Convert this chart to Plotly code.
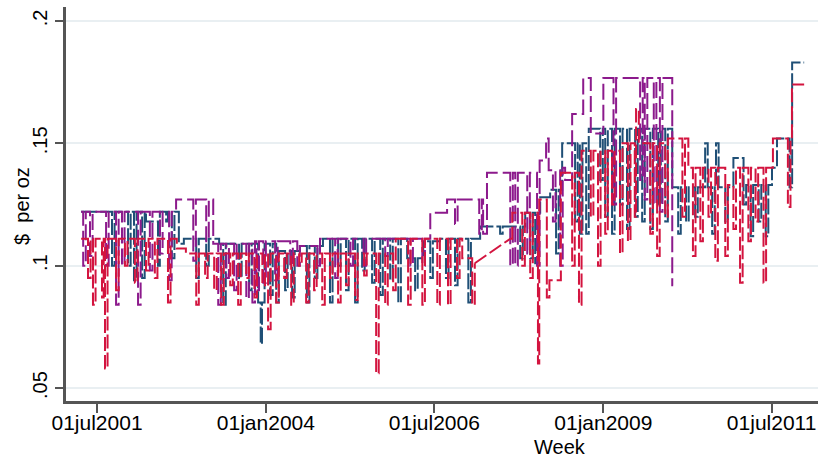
import plotly.graph_objects as go

# ---- data (weekly price series) ----
blue = [
    ("2001-04-06", .122),
    ("2001-09-20", .100), ("2001-10-04", .122),
    ("2001-12-16", .100), ("2001-12-30", .122),
    ("2002-01-17", .094), ("2002-01-31", .122),
    ("2002-03-02", .095), ("2002-03-16", .122),
    ("2002-03-23", .118),
    ("2002-05-27", .100), ("2002-06-06", .122),
    ("2002-07-10", .118), ("2002-07-20", .122),
    ("2002-08-10", .103), ("2002-08-24", .122),
    ("2002-09-17", .109),
    ("2002-10-14", .111),
    ("2002-12-20", .095), ("2003-01-03", .111),
    ("2003-02-12", .100), ("2003-02-26", .111),
    ("2003-04-23", .109),
    ("2003-05-15", .084), ("2003-05-29", .109),
    ("2003-08-09", .095), ("2003-08-23", .109),
    ("2003-10-02", .090), ("2003-10-16", .109),
    ("2003-11-20", .085), ("2003-12-04", .068), ("2003-12-11", .085), ("2003-12-25", .109),
    ("2004-01-24", .088), ("2004-02-07", .109),
    ("2004-02-26", .085), ("2004-03-11", .106),
    ("2004-04-14", .090), ("2004-04-28", .106),
    ("2004-05-22", .087), ("2004-06-05", .106),
    ("2004-07-03", .108),
    ("2004-08-10", .085), ("2004-08-24", .108),
    ("2004-09-22", .095), ("2004-10-06", .108),
    ("2004-11-05", .111),
    ("2004-12-13", .085), ("2004-12-27", .111),
    ("2005-01-26", .100), ("2005-02-09", .111),
    ("2005-03-10", .090), ("2005-03-24", .111),
    ("2005-04-28", .085), ("2005-05-12", .111),
    ("2005-06-05", .098), ("2005-06-19", .111),
    ("2005-07-29", .093), ("2005-08-12", .111),
    ("2005-09-11", .088), ("2005-09-25", .111),
    ("2005-11-04", .094), ("2005-11-18", .111),
    ("2005-12-18", .085), ("2006-01-01", .111),
    ("2006-02-04", .103),
    ("2006-03-19", .090), ("2006-04-02", .103),
    ("2006-05-02", .110),
    ("2006-06-09", .095), ("2006-06-23", .110),
    ("2006-07-31", .111),
    ("2006-09-02", .095), ("2006-09-16", .111),
    ("2006-10-21", .092), ("2006-11-04", .111),
    ("2007-01-01", .085), ("2007-01-15", .111),
    ("2007-03-06", .116),
    ("2007-06-22", .113), ("2007-07-06", .116),
    ("2007-10-09", .103), ("2007-10-23", .116),
    ("2007-11-05", .1216),
    ("2007-12-02", .103), ("2007-12-16", .1216),
    ("2007-12-29", .101), ("2008-01-12", .1216),
    ("2008-01-25", .128),
    ("2008-03-19", .131),
    ("2008-04-20", .105), ("2008-05-04", .131),
    ("2008-05-23", .150),
    ("2008-08-01", .118), ("2008-08-15", .150),
    ("2008-08-27", .113), ("2008-09-10", .150),
    ("2008-09-30", .113), ("2008-10-14", .156),
    ("2008-12-15", .135), ("2008-12-29", .156),
    ("2009-01-11", .120), ("2009-01-25", .156),
    ("2009-02-17", .113), ("2009-03-03", .156),
    ("2009-04-01", .125), ("2009-04-15", .156),
    ("2009-05-09", .115), ("2009-05-23", .156),
    ("2009-06-22", .120), ("2009-07-06", .156),
    ("2009-07-30", .118), ("2009-08-13", .156),
    ("2009-09-12", .115), ("2009-09-26", .156),
    ("2009-10-25", .125), ("2009-11-08", .156),
    ("2009-12-02", .118), ("2009-12-16", .156),
    ("2010-01-09", .132),
    ("2010-02-10", .113), ("2010-02-24", .132),
    ("2010-03-25", .118), ("2010-04-08", .132),
    ("2010-05-13", .120), ("2010-05-27", .132),
    ("2010-07-06", .150), ("2010-07-20", .132),
    ("2010-08-13", .113), ("2010-08-27", .132),
    ("2010-09-03", .150), ("2010-09-17", .132),
    ("2010-10-23", .118), ("2010-11-06", .132),
    ("2010-12-06", .144),
    ("2011-01-30", .125), ("2011-02-13", .133),
    ("2011-03-09", .112), ("2011-03-23", .133),
    ("2011-04-22", .118), ("2011-05-06", .133),
    ("2011-05-30", .112), ("2011-06-13", .133),
    ("2011-07-03", .140),
    ("2011-07-30", .152),
    ("2011-10-06", .132),
    ("2011-10-20", .183),
    ("2011-12-24", .183),
]

purple = [
    ("2001-04-06", .122),
    ("2001-04-17", .100), ("2001-05-01", .122),
    ("2001-05-24", .104), ("2001-06-07", .122),
    ("2001-08-19", .100), ("2001-09-02", .122),
    ("2001-10-12", .084), ("2001-10-26", .122),
    ("2001-11-13", .100), ("2001-11-27", .122),
    ("2002-02-08", .084), ("2002-02-22", .122),
    ("2002-04-13", .098), ("2002-04-27", .122),
    ("2002-06-07", .105), ("2002-06-21", .122),
    ("2002-07-26", .094), ("2002-08-09", .122),
    ("2002-09-02", .127),
    ("2002-12-04", .102), ("2002-12-18", .127),
    ("2003-02-12", .110), ("2003-02-26", .127),
    ("2003-03-22", .109),
    ("2003-04-18", .084), ("2003-05-02", .109),
    ("2003-06-01", .095), ("2003-06-15", .109),
    ("2003-07-13", .090), ("2003-07-27", .109),
    ("2003-09-17", .0865), ("2003-10-01", .109),
    ("2003-10-20", .085), ("2003-11-03", .110),
    ("2003-11-11", .090), ("2003-11-25", .110),
    ("2003-12-18", .093), ("2004-01-01", .110),
    ("2004-02-20", .094), ("2004-03-05", .110),
    ("2004-05-12", .100), ("2004-05-26", .110),
    ("2004-06-19", .100), ("2004-07-03", .108),
    ("2004-10-06", .100), ("2004-10-20", .111),
    ("2005-01-10", .095), ("2005-01-24", .111),
    ("2005-04-03", .100), ("2005-04-17", .111),
    ("2005-06-13", .100), ("2005-06-27", .111),
    ("2005-10-08", .104), ("2005-10-22", .111),
    ("2006-02-21", .100), ("2006-03-07", .111),
    ("2006-04-27", .100), ("2006-05-11", .111),
    ("2006-06-09", .1216),
    ("2006-09-08", .127),
    ("2006-10-21", .117), ("2006-11-04", .127),
    ("2007-03-01", .113), ("2007-03-15", .127),
    ("2007-03-22", .113),
    ("2007-04-12", .138),
    ("2007-08-16", .100), ("2007-08-30", .138),
    ("2007-09-12", .100), ("2007-09-26", .138),
    ("2007-11-16", .105), ("2007-11-30", .138),
    ("2008-01-08", .100), ("2008-01-22", .143),
    ("2008-02-26", .152), ("2008-03-11", .139),
    ("2008-04-03", .118), ("2008-04-17", .139),
    ("2008-05-12", .100), ("2008-05-26", .140),
    ("2008-06-08", .135),
    ("2008-07-16", .162),
    ("2008-09-14", .1767),
    ("2008-10-25", .154),
    ("2009-01-01", .1767),
    ("2009-02-25", .125), ("2009-03-11", .1767),
    ("2009-07-19", .135), ("2009-08-02", .1767),
    ("2009-08-13", .127), ("2009-08-27", .1767),
    ("2009-10-01", .125), ("2009-10-15", .1767),
    ("2009-11-03", .122), ("2009-11-17", .1767),
    ("2010-01-09", .092),
    ("2010-01-14", .092),
]

red_before_gap = [
    ("2001-04-06", .111),
    ("2001-05-13", .095), ("2001-05-27", .111),
    ("2001-06-09", .084), ("2001-06-23", .111),
    ("2001-07-28", .087), ("2001-08-06", .111),
    ("2001-08-13", .058), ("2001-08-27", .111),
    ("2001-10-12", .090), ("2001-10-26", .111),
    ("2001-11-29", .100), ("2001-12-13", .111),
    ("2002-01-22", .093), ("2002-02-05", .111),
    ("2002-03-23", .098), ("2002-04-06", .111),
    ("2002-05-10", .095), ("2002-05-24", .111),
    ("2002-07-20", .085), ("2002-08-03", .111),
    ("2002-09-06", .107),
    ("2002-10-25", .105),
    ("2002-12-20", .084), ("2003-01-03", .105),
    ("2003-02-06", .095), ("2003-02-20", .105),
    ("2003-03-27", .090), ("2003-04-10", .105),
    ("2003-05-04", .084), ("2003-05-18", .105),
    ("2003-06-22", .092), ("2003-07-06", .105),
    ("2003-08-04", .084), ("2003-08-18", .105),
    ("2003-09-17", .095), ("2003-10-01", .105),
    ("2003-10-31", .087), ("2003-11-14", .105),
    ("2003-12-13", .092), ("2003-12-27", .105),
    ("2004-01-13", .074), ("2004-01-27", .105),
    ("2004-02-26", .085), ("2004-03-11", .105),
    ("2004-04-09", .095), ("2004-04-23", .105),
    ("2004-05-17", .084), ("2004-05-31", .105),
    ("2004-06-29", .100), ("2004-07-13", .105),
    ("2004-08-06", .085), ("2004-08-20", .105),
    ("2004-09-18", .090), ("2004-10-02", .105),
    ("2004-11-01", .084), ("2004-11-15", .105),
    ("2004-12-13", .095), ("2004-12-27", .105),
    ("2005-01-26", .085), ("2005-02-09", .105),
    ("2005-03-10", .092), ("2005-03-24", .105),
    ("2005-04-28", .086), ("2005-05-12", .105),
    ("2005-06-16", .096), ("2005-06-30", .105),
    ("2005-08-20", .056), ("2005-09-03", .105),
    ("2005-10-08", .084), ("2005-10-22", .105),
    ("2005-11-20", .090), ("2005-12-04", .111),
    ("2006-02-09", .084), ("2006-02-23", .111),
    ("2006-04-27", .084), ("2006-05-11", .111),
    ("2006-07-17", .084), ("2006-07-31", .111),
    ("2006-09-13", .084), ("2006-09-27", .111),
    ("2006-11-01", .095), ("2006-11-15", .111),
    ("2006-11-29", .103),
    ("2007-01-22", .084), ("2007-02-05", .101),
]

red_after_gap = [
    ("2007-08-16", .111),
    ("2007-08-27", .1216),
    ("2007-10-20", .100), ("2007-11-03", .1216),
    ("2007-12-02", .095), ("2007-12-16", .1216),
    ("2008-01-13", .060), ("2008-01-20", .127),
    ("2008-03-01", .087), ("2008-03-15", .094),
    ("2008-05-16", .138),
    ("2008-07-16", .100), ("2008-07-30", .138),
    ("2008-08-22", .084), ("2008-09-05", .147),
    ("2008-10-25", .120), ("2008-11-08", .147),
    ("2008-12-03", .100), ("2008-12-17", .147),
    ("2009-01-11", .113), ("2009-01-25", .147),
    ("2009-02-17", .125), ("2009-03-03", .147),
    ("2009-04-01", .105), ("2009-04-15", .150),
    ("2009-05-14", .110), ("2009-05-28", .150),
    ("2009-06-20", .120), ("2009-06-27", .164),
    ("2009-07-12", .150),
    ("2009-09-12", .113), ("2009-09-26", .150),
    ("2009-10-19", .104), ("2009-11-02", .150),
    ("2009-12-02", .120), ("2009-12-16", .152),
    ("2010-03-05", .120), ("2010-03-19", .152),
    ("2010-04-06", .140),
    ("2010-05-01", .104), ("2010-05-15", .140),
    ("2010-06-10", .110), ("2010-06-24", .140),
    ("2010-07-24", .120), ("2010-08-07", .140),
    ("2010-08-30", .102), ("2010-09-13", .140),
    ("2010-10-23", .104), ("2010-11-06", .133),
    ("2010-12-06", .115), ("2010-12-20", .140),
    ("2011-01-11", .093), ("2011-01-25", .140),
    ("2011-02-25", .110), ("2011-03-11", .140),
    ("2011-04-05", .118), ("2011-04-19", .140),
    ("2011-05-18", .093), ("2011-06-01", .140),
    ("2011-07-08", .152),
    ("2011-09-27", .124), ("2011-10-11", .152),
    ("2011-10-19", .174),
    ("2011-12-24", .174),
]

tick_dates = ["2001-07-01", "2004-01-01", "2006-07-01", "2009-01-01", "2011-07-01"]
tick_labels = ["01jul2001", "01jan2004", "01jul2006", "01jan2009", "01jul2011"]
y_ticks = [0.05, 0.10, 0.15, 0.20]
y_tick_labels = [".05", ".1", ".15", ".2"]

BLUE = "#1f4f76"
PURPLE = "#8c1a8c"
RED = "#d3143f"
FONT = "Liberation Sans, Arial, Helvetica, sans-serif"


def xs(series):
    return [d for d, _ in series]


def ys(series):
    return [v for _, v in series]


fig = go.Figure()
fig.add_trace(go.Scatter(x=xs(blue), y=ys(blue), mode="lines", line_shape="hv",
                         line=dict(color=BLUE, width=2, dash="16px,3px")))
fig.add_trace(go.Scatter(x=xs(purple), y=ys(purple), mode="lines", line_shape="hv",
                         line=dict(color=PURPLE, width=2, dash="16px,5px")))
fig.add_trace(go.Scatter(x=xs(red_before_gap), y=ys(red_before_gap), mode="lines", line_shape="hv",
                         line=dict(color=RED, width=2, dash="14px,4px")))
bridge = [red_before_gap[-1], red_after_gap[0]]
fig.add_trace(go.Scatter(x=xs(bridge), y=ys(bridge), mode="lines",
                         line=dict(color=RED, width=2, dash="14px,4px")))
fig.add_trace(go.Scatter(x=xs(red_after_gap), y=ys(red_after_gap), mode="lines", line_shape="hv",
                         line=dict(color=RED, width=2, dash="14px,4px")))

fig.update_layout(
    width=818, height=457,
    margin=dict(l=66, r=0, t=7, b=56),
    paper_bgcolor="white", plot_bgcolor="white",
    showlegend=False,
    font=dict(family=FONT, size=20, color="black"),
    xaxis=dict(
        type="date",
        range=["2001-01-14", "2012-03-08"],
        tickmode="array", tickvals=tick_dates, ticktext=tick_labels,
        ticks="outside", ticklen=9, tickwidth=1.5, tickcolor="#555555",
        ticklabelstandoff=-8,
        showline=True, linecolor="#555555", linewidth=2.5,
        showgrid=False, zeroline=False,
        tickfont=dict(size=21, family=FONT, color="black"),
    ),
    yaxis=dict(
        range=[0.0447, 0.2057],
        tickmode="array", tickvals=y_ticks, ticktext=y_tick_labels,
        tickangle=-90,
        ticks="outside", ticklen=8, tickwidth=1.5, tickcolor="#555555",
        showline=True, linecolor="#555555", linewidth=2.5,
        showgrid=True, gridcolor="#e9eff2", gridwidth=1.5,
        zeroline=False,
        tickfont=dict(size=20, family=FONT, color="black"),
    ),
    annotations=[
        dict(text="Week", xref="paper", yref="paper", x=0.657, y=-0.117,
             xanchor="center", yanchor="middle", showarrow=False,
             font=dict(size=20, family=FONT, color="black")),
        dict(text="$\u00a0\u00a0per oz", xref="paper", yref="paper", x=-0.0585, y=0.495,
             xanchor="center", yanchor="middle", textangle=-90, showarrow=False,
             font=dict(size=20, family=FONT, color="black")),
    ],
)

fig.write_html("out.html")
